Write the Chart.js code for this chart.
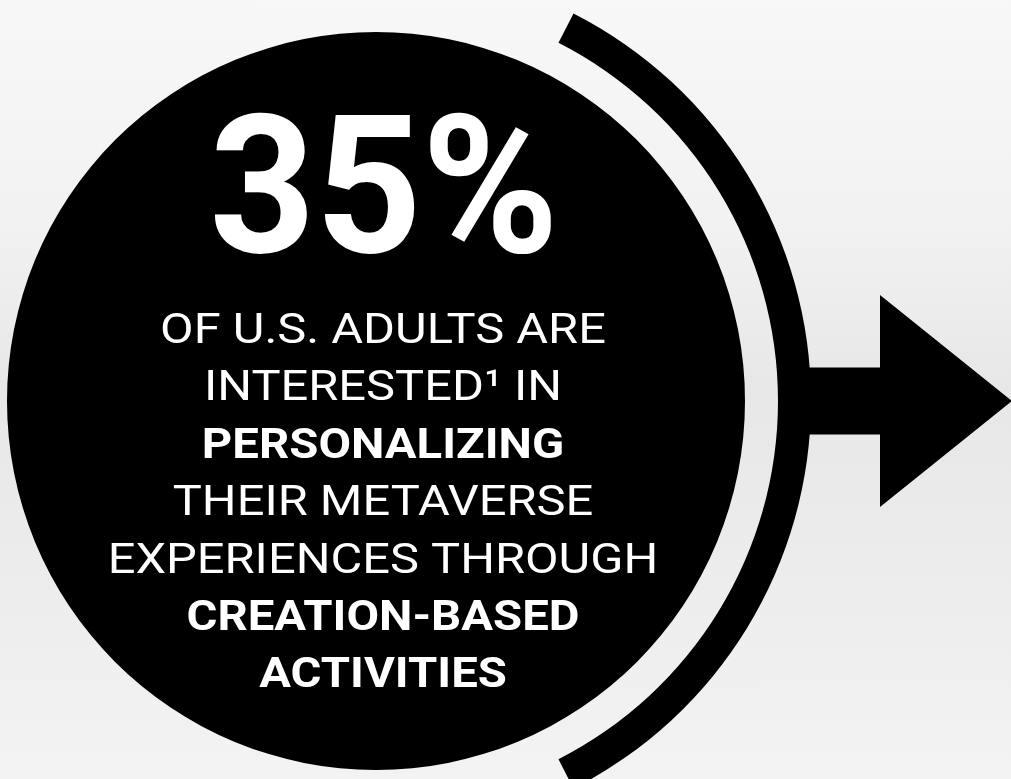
<!DOCTYPE html>
<html>
<head>
<meta charset="utf-8">
<title>35% of U.S. adults</title>
<script src="https://cdn.jsdelivr.net/npm/chart.js@4.4.1/dist/chart.umd.min.js"></script>
<style>
  html, body { margin: 0; padding: 0; overflow: hidden; }
  body {
    width: 1011px; height: 779px;
    background: linear-gradient(180deg, #f8f8f8 0%, #f1f1f1 30%, #e7e7e7 50%, #ebebeb 68%, #f3f3f3 100%);
  }
  #wrap { position: relative; width: 1011px; height: 779px; }
</style>
</head>
<body>
<div id="wrap"><canvas id="chart_stat"></canvas></div>
<script>
// headline figure and the sentence under it
var statValue = 35;
var statLines = ["OF U.S. ADULTS ARE", "INTERESTED\u00B9 IN", "PERSONALIZING", "THEIR METAVERSE",
                 "EXPERIENCES THROUGH", "CREATION-BASED", "ACTIVITIES"];
var statBold = [false, false, true, false, false, true, true];

// rings of the doughnut, outer to inner (weights are ring thickness)
var ringNames = ["arc", "gap", "disk"];
var ringWeights = [33, 33, 369];
var arcSweep = 126;   // degrees of the outer arc, centred on the right side

var arrowPlugin = {
    id: 'arrow',
    beforeDatasetsDraw: function(chart) {
        var arc = chart.getDatasetMeta(0).data[0];
        if (!arc) return;
        var ctx = chart.ctx;
        var cx = arc.x, cy = arc.y, r = arc.outerRadius;
        var base = cx + 504, tip = cx + 636;
        ctx.save();
        ctx.fillStyle = '#000';
        ctx.beginPath();
        ctx.moveTo(cx + r - 8, cy - 33.5);
        ctx.lineTo(base, cy - 33.5);
        ctx.lineTo(base, cy - 106);
        ctx.lineTo(tip, cy);
        ctx.lineTo(base, cy + 106);
        ctx.lineTo(base, cy + 33.5);
        ctx.lineTo(cx + r - 8, cy + 33.5);
        ctx.closePath();
        ctx.fill();
        ctx.restore();
    }
};

// the artwork's type is a little wider/narrower than Roboto, so stretch it horizontally
function stretchedText(ctx, str, x, y, sx) {
    ctx.save();
    ctx.translate(x, y);
    ctx.scale(sx, 1);
    ctx.fillText(str, 0, 0);
    ctx.restore();
}

var textPlugin = {
    id: 'stattext',
    afterDatasetsDraw: function(chart) {
        var disk = chart.getDatasetMeta(2).data[0];
        if (!disk) return;
        var ctx = chart.ctx;
        var x = disk.x + 7;
        ctx.save();
        ctx.fillStyle = '#fff';
        ctx.textAlign = 'center';
        ctx.textBaseline = 'alphabetic';
        ctx.font = 'bold 193px Roboto';
        stretchedText(ctx, statValue + '%', x + 1, disk.y - 149, 0.96);
        for (var i = 0; i < statLines.length; i++) {
            ctx.font = (statBold[i] ? 'bold ' : '') + '43px Roboto';
            stretchedText(ctx, statLines[i], x, disk.y - 58 + i * 57.4, statBold[i] ? 1.1 : 1.135);
        }
        ctx.restore();
    }
};

var ctx = document.getElementById('chart_stat').getContext('2d');
new Chart(ctx, {
    type: 'doughnut',
    data: {
        labels: ['value'],
        datasets: [
            { label: ringNames[0], data: [1], weight: ringWeights[0], rotation: 90 - arcSweep / 2,
              circumference: arcSweep, backgroundColor: '#000', borderWidth: 0 },
            { label: ringNames[1], data: [1], weight: ringWeights[1],
              backgroundColor: 'rgba(0,0,0,0)', borderWidth: 0 },
            { label: ringNames[2], data: [1], weight: ringWeights[2],
              backgroundColor: '#000', borderWidth: 0 }
        ]
    },
    options: {
        responsive: true,
        maintainAspectRatio: false,
        animation: false,
        cutout: 0,
        radius: 435,
        layout: { padding: { left: 0, right: 259, top: 23, bottom: 0 } },
        plugins: { legend: { display: false }, tooltip: { enabled: false } },
        events: []
    },
    plugins: [arrowPlugin, textPlugin]
});
</script>
</body>
</html>
